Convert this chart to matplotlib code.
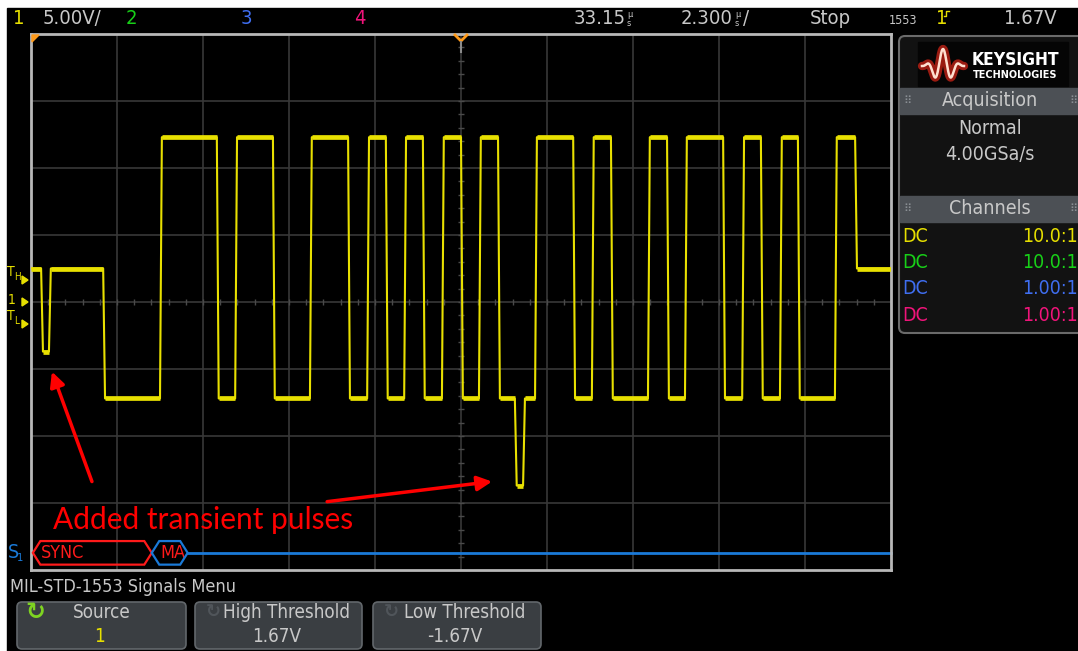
import matplotlib.pyplot as plt
from matplotlib import font_manager
from matplotlib.patches import FancyBboxPatch, Polygon, Rectangle
import numpy as np

# captured trace: time axis (us) and volts held after each edge
t_start, t_end = 21.65, 44.65
start_level = 2.5
edge_times = [21.92, 22.13, 23.58, 25.10, 26.62, 27.11, 28.12, 29.11, 30.13,
              30.64, 31.14, 31.63, 32.13, 32.64, 33.15, 33.63, 34.14, 34.59,
              34.81, 35.13, 36.15, 36.65, 37.16, 38.15, 38.66, 39.14, 40.16,
              40.67, 41.17, 41.68, 42.16, 43.15, 43.69]
edge_levels = [-3.7, 2.5, -7.2, 12.3, -7.2, 12.3, -7.2, 12.3, -7.2,
               12.3, -7.2, 12.3, -7.2, 12.3, -7.2, 12.3, -7.2, -13.7,
               -7.2, 12.3, -7.2, 12.3, -7.2, 12.3, -7.2, 12.3, -7.2,
               12.3, -7.2, 12.3, -7.2, 12.3, 2.5]

# serial decode row
decode_labels = ["SYNC", "MA"]
decode_start = [21.70, 24.88]
decode_end = [24.88, 25.84]

# annotation arrows (tail -> tip), in us / V
arrow_tails = [(23.28, -13.4), (29.57, -14.9)]
arrow_tips = [(22.21, -5.2), (33.98, -13.4)]
note_pos = (26.25, -16.3)

channel_coupling = ["DC", "DC", "DC", "DC"]
channel_probe = ["10.0:1", "10.0:1", "1.00:1", "1.00:1"]
channel_colors = ["#e6df00", "#18d018", "#3f6ef0", "#f0147a"]

W, H = 1078, 651
names = {f.name for f in font_manager.fontManager.ttflist}
NARROW = "Liberation Sans Narrow" if "Liberation Sans Narrow" in names else "DejaVu Sans"
GREY = "#c8c8c8"

fig = plt.figure(figsize=(W / 100, H / 100), dpi=100)
fig.patch.set_facecolor("white")
ui = fig.add_axes([0, 0, 1, 1])
ui.set_xlim(0, W)
ui.set_ylim(H, 0)
ui.axis("off")
ui.add_patch(Rectangle((7, 8), W - 7, H - 8, color="black", zorder=0))


def label(x, y, s, size=14.5, color=GREY, ha="left", **kw):
    ui.text(x, y, s, fontsize=size, color=color, ha=ha, va="center",
            family=[NARROW, "DejaVu Sans"], stretch="condensed", **kw)


# top status bar
label(13, 19, "1", color=channel_colors[0])
label(43, 19, "5.00V/")
label(126, 19, "2", color=channel_colors[1])
label(241, 19, "3", color=channel_colors[2])
label(354, 19, "4", color=channel_colors[3])
label(574, 19, "33.15")
label(627, 19, "µ\ns", size=6.5, linespacing=0.95)
label(681, 19, "2.300")
label(735, 19, "µ\ns", size=6.5, linespacing=0.95)
label(743, 19, "/")
label(810, 19, "Stop")
label(889, 20, "1553", size=9)
label(936, 19, "1", color=channel_colors[0])
ui.plot([944, 946, 946, 949], [16, 16, 11, 11], color=channel_colors[0], lw=1)
label(1004, 19, "1.67V")

# scope graticule
ax = fig.add_axes([31 / W, (H - 570) / H, 860 / W, 536 / H])
ax.set_facecolor("black")
ax.set_xlim(t_start, t_end)
ax.set_ylim(-20, 20)
div_t = (t_end - t_start) / 10
ax.set_xticks([t_start + k * div_t for k in range(1, 10)])
ax.set_yticks(range(-15, 20, 5))
ax.grid(True, color="#383838", lw=1.2)
ax.tick_params(length=0, labelbottom=False, labelleft=False)
for sp in ax.spines.values():
    sp.set_color("#b8b8b8")
    sp.set_linewidth(2)
t_mid = (t_start + t_end) / 2
minor_t = np.linspace(t_start, t_end, 51)
minor_v = np.linspace(-20, 20, 41)
ax.plot(minor_t, np.zeros_like(minor_t), "|", color="#4a4a4a", ms=4)
ax.plot(np.full_like(minor_v, t_mid), minor_v, "_", color="#4a4a4a", ms=4)

# trace
ts, vs = [t_start], [start_level]
for et, lv in zip(edge_times, edge_levels):
    ts += [et, et + 0.05]
    vs += [vs[-1], lv]
ts.append(t_end)
vs.append(vs[-1])
ax.plot(ts, vs, color="#e8e000", lw=1.5, zorder=3)
seg_start = [t_start] + [et + 0.05 for et in edge_times]
seg_end = edge_times + [t_end]
seg_level = [start_level] + edge_levels
ax.hlines(seg_level, seg_start, seg_end, color="#e8e000", lw=3.4, zorder=3)

# serial decode
bus_y, half = 0.032, 0.022
tr = ax.get_xaxis_transform()
ax.plot([decode_end[-1], t_end], [bus_y, bus_y], color="#1a7ad8", lw=2, transform=tr,
        clip_on=False)
hex_colors = ["#ff1a1a", "#1a7ad8"]
for lab, s, e, c in zip(decode_labels, decode_start, decode_end, hex_colors):
    nose = 0.2
    ax.add_patch(Polygon([(s, bus_y), (s + nose, bus_y + half), (e - nose, bus_y + half),
                          (e, bus_y), (e - nose, bus_y - half), (s + nose, bus_y - half)],
                         closed=True, fill=False, ec=c, lw=1.6, transform=tr,
                         clip_on=False, zorder=4))
    ax.text(s + nose + 0.02, bus_y, lab, color="#ff1a1a", fontsize=13, va="center",
            transform=tr, family=[NARROW, "DejaVu Sans"], stretch="condensed")
label(8, 553, "S", color="#1a7ad8", size=14)
label(17, 558, "1", color="#1a7ad8", size=8)

# annotation
for tail, tip in zip(arrow_tails, arrow_tips):
    ax.annotate("", xy=tip, xytext=tail,
                arrowprops=dict(arrowstyle="-|>", color="#ff0000", lw=2.5,
                                mutation_scale=22, shrinkA=0, shrinkB=0))
ax.text(*note_pos, "Added transient pulses", color="#ff0000", fontsize=21.5,
        family=["Lato", "DejaVu Sans"], ha="center", va="center", zorder=6)

# overlay for markers that sit on the graticule edge
top = fig.add_axes([0, 0, 1, 1], zorder=5)
top.set_xlim(0, W)
top.set_ylim(H, 0)
top.axis("off")
top.patch.set_alpha(0)
top.add_patch(Polygon([(32, 35), (39, 35), (32, 42)], color="#ff9a1a"))
top.plot([455, 461, 467], [35, 41, 35], color="#ff9a1a", lw=2)
top.plot([461, 461], [42, 52], color="#8a8a8a", lw=1.5)

# threshold / ground markers
label(7, 272, "T", color=channel_colors[0], size=10)
label(14, 277, "H", color=channel_colors[0], size=7)
ui.add_patch(Polygon([(22, 276), (28, 280), (22, 284)], color=channel_colors[0]))
label(8, 300, "1", color=channel_colors[0], size=10)
ui.add_patch(Polygon([(22, 298), (28, 302), (22, 306)], color=channel_colors[0]))
label(7, 316, "T", color=channel_colors[0], size=10)
label(14, 321, "L", color=channel_colors[0], size=7)
ui.add_patch(Polygon([(22, 320), (28, 324), (22, 328)], color=channel_colors[0]))

# right side panel
ui.add_patch(FancyBboxPatch((899, 36), 185, 297, boxstyle="round,pad=0,rounding_size=6",
                            fc="#121212", ec="#6a6a6a", lw=1.5))
ui.add_patch(Rectangle((918, 42), 150, 44, color="#050505"))
lx = np.linspace(922, 964, 160)
ly = 66 - 17 * np.sin((lx - 922) / 42 * 5 * np.pi) * np.sin((lx - 922) / 42 * np.pi) ** 2
ui.plot(lx, ly, color="#ff2a1a", lw=6, alpha=0.6, solid_capstyle="round")
ui.plot(lx, ly, color="#ffe0d0", lw=1.8)
ui.text(1015, 60, "KEYSIGHT", color="white", fontsize=12.5, fontweight="bold",
        ha="center", va="center", family="DejaVu Sans", stretch="condensed")
ui.text(1015, 75, "TECHNOLOGIES", color="white", fontsize=7, fontweight="bold",
        ha="center", va="center", family="DejaVu Sans")
for y0, title in [(88, "Acquisition"), (196, "Channels")]:
    ui.add_patch(Rectangle((900, y0), 178, 26, color="#4c5055"))
    label(990, y0 + 13, title, color=GREY, size=14, ha="center")
    ui.text(907, y0 + 13, "⠿", color="#8a8f94", fontsize=8, ha="center", va="center",
            family="DejaVu Sans")
    ui.text(1073, y0 + 13, "⠿", color="#8a8f94", fontsize=8, ha="center", va="center",
            family="DejaVu Sans")
label(990, 128, "Normal", color=GREY, size=14, ha="center")
label(990, 155, "4.00GSa/s", color=GREY, size=14, ha="center")
for i, (cp, pr, c) in enumerate(zip(channel_coupling, channel_probe, channel_colors)):
    y = 236 + i * 26.5
    label(902, y, cp, color=c, size=14)
    label(1078, y, pr, color=c, size=14, ha="right")

# softkey menu
label(10, 587, "MIL-STD-1553 Signals Menu", color=GREY, size=13)
buttons = [(17, 186, "Source", "1"), (195, 362, "High Threshold", "1.67V"),
           (373, 541, "Low Threshold", "-1.67V")]
for k, (x0, x1, title, val) in enumerate(buttons):
    ui.add_patch(FancyBboxPatch((x0, 602), x1 - x0, 47,
                                boxstyle="round,pad=0,rounding_size=5",
                                fc="#3a3e42", ec="#62676b", lw=1.2))
    cx = (x0 + x1) / 2 + (0 if k == 0 else 8)
    label(cx, 612, title, color=GREY, size=13.5, ha="center")
    label((x0 + x1) / 2 - 2, 636, val, color=channel_colors[0] if k == 0 else GREY,
          size=13.5, ha="center")
    ui.text(x0 + 18, 612, "↻", color="#7ed321" if k == 0 else "#50555a",
            fontsize=17 if k == 0 else 13, fontweight="bold", ha="center", va="center",
            family="DejaVu Sans")

fig.savefig("out.png", dpi=100, facecolor=fig.get_facecolor())
